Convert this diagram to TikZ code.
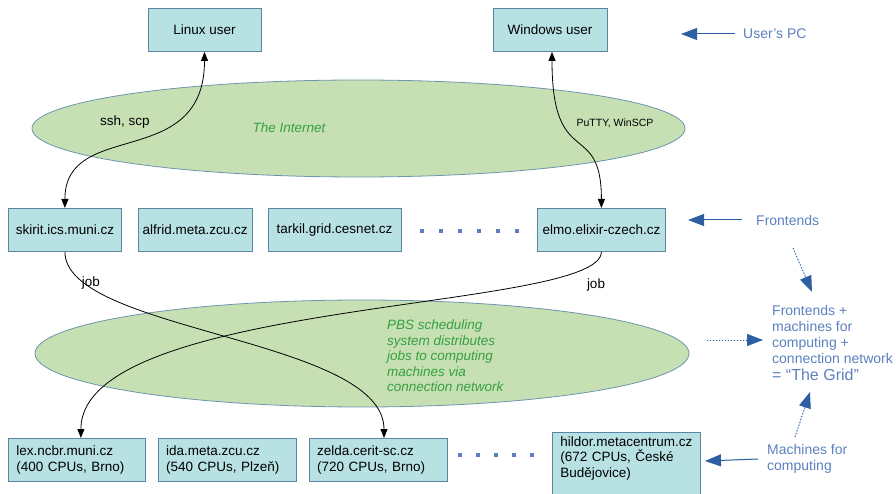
\documentclass[tikz,border=0pt]{standalone}
\usepackage{fontspec}
\setmainfont{Liberation Sans}
\usetikzlibrary{arrows.meta,positioning,shapes.geometric}

\definecolor{boxfill}{HTML}{B8E1E4}
\definecolor{boxline}{HTML}{5A86A3}
\definecolor{netfill}{HTML}{C6E0B4}
\definecolor{netline}{HTML}{6E95AE}
\definecolor{nettext}{HTML}{35A040}
\definecolor{notetext}{HTML}{5B80BE}
\definecolor{notearrow}{HTML}{2E5FA3}

\begin{document}
\begin{tikzpicture}[x=1pt, y=-1pt,
  font=\fontsize{13.5}{15.5}\selectfont,
  host/.style={draw=boxline, fill=boxfill, line width=0.8pt, minimum height=43pt, inner sep=4pt},
  mach/.style={host, align=left, inner xsep=8pt, text width=#1},
  net/.style={ellipse, draw=netline, fill=netfill, line width=0.8pt, inner sep=0pt},
  nettxt/.style={text=nettext, font=\fontsize{13.5}{15.5}\selectfont\itshape, inner sep=0pt},
  note/.style={text=notetext, font=\fontsize{14}{16}\selectfont, inner sep=0pt, align=left},
  lbl/.style={inner sep=0pt},
  arr/.style={{Triangle[length=9pt,width=7pt]}-{Triangle[length=9pt,width=7pt]}, line width=0.8pt},
  jobarr/.style={-{Triangle[length=9pt,width=7pt]}, line width=0.8pt},
  notearr/.style={-{Triangle[length=16pt,width=12pt]}, draw=notearrow, fill=notearrow, line width=1pt},
  dotarr/.style={notearr, dotted},
  more/.style={draw=notetext, line width=4pt, dash pattern=on 4pt off 15pt}
]
\useasboundingbox (0,0) rectangle (896,494);

% the two networks
\node[net, minimum width=653pt, minimum height=97pt] (internet) at (358.5,128.5) {};
\node[net, minimum width=654pt, minimum height=107pt] (pbs) at (362,353.5) {};
\node[nettxt] (inettxt) at (289,128) {The Internet};
\node[nettxt, align=left, anchor=west] (pbstxt) at (387,356) {PBS scheduling\\system distributes\\jobs to computing\\machines via\\connection network};

% user's PCs
\node[host, minimum width=113pt] (linux) at (204.5,30) {Linux user};
\node[host, minimum width=114pt] (windows) at (550,30) {Windows user};

% frontends
\node[host, minimum width=113pt, anchor=north west] (skirit) at (8,208) {skirit.ics.muni.cz};
\node[host, minimum width=114pt, right=16pt of skirit] (alfrid) {alfrid.meta.zcu.cz};
\node[host, minimum width=133pt, right=15pt of alfrid] (tarkil) {tarkil.grid.cesnet.cz};
\node[host, minimum width=128pt, anchor=north west] (elmo) at (537,208) {elmo.elixir-czech.cz};
\draw[more] (420,231) -- (519,231);

% computing machines
\node[mach=121pt, anchor=north west] (lex) at (8,438) {lex.ncbr.muni.cz\\(400 CPUs, Brno)};
\node[mach=122pt, right=12pt of lex] (ida) {ida.meta.zcu.cz\\(540 CPUs, Plzeň)};
\node[mach=122pt, right=12pt of ida] (zelda) {zelda.cerit-sc.cz\\(720 CPUs, Brno)};
\node[mach=132pt, minimum height=0pt, anchor=north west, text depth=52pt] (hildor) at (552,432) {hildor.metacentrum.cz\\(672 CPUs, České\\Budějovice)};
\draw[more, dash pattern=on 4pt off 14pt] (458,455) -- (536,455);

% connections
\draw[arr] (skirit.north) .. controls +(0,-90) and +(0,120) .. (linux.south);
\draw[arr] (elmo.north) .. controls +(0,-90) and +(0,120) .. ([xshift=2pt]windows.south);
\draw[jobarr] (skirit.south) .. controls +(0,80) and +(0,-100) .. ([xshift=6pt]zelda.north);
\draw[jobarr] (elmo.south) .. controls +(0,60) and +(0,-140) .. ([xshift=4pt]lex.north);
\node[lbl] (ssh) at (125,122) {ssh, scp};
\node[lbl, font=\fontsize{10.5}{12}\selectfont] (putty) at (615,123) {PuTTY, WinSCP};
\node[lbl] (job1) at (91,283) {job};
\node[lbl] (job2) at (596,285) {job};

% notes on the right
\node[note, anchor=west] (pc) at (743,34) {User’s PC};
\node[note, anchor=west] (fe) at (756,220) {Frontends};
\node[note, anchor=west] (mc) at (767,459) {Machines for\\computing};
\node[note, anchor=west] (grid) at (772,343) {Frontends +\\machines for\\computing +\\connection network\\[1pt]{\fontsize{16}{19}\selectfont = “The Grid”}};
\coordinate (pcend) at (681,34);
\coordinate (feend) at (688,220);
\coordinate (mcend) at (705,461);
\draw[notearr] ([xshift=-8pt]pc.west) -- (pcend);
\draw[notearr] ([xshift=-14pt]fe.west) -- (feend);
\draw[notearr] ([xshift=-9pt]mc.west) -- (mcend);

\coordinate (fedot) at (793,248);
\coordinate (gridtop) at (812,292);
\coordinate (pbsdot) at (707,340);
\coordinate (gridleft) at (763,340);
\coordinate (mcdot) at (795,437);
\coordinate (gridbot) at (810,392);
\draw[dotarr] (fedot) -- (gridtop);
\draw[dotarr] (pbsdot) -- (gridleft);
\draw[dotarr] (mcdot) -- (gridbot);
\end{tikzpicture}
\end{document}
